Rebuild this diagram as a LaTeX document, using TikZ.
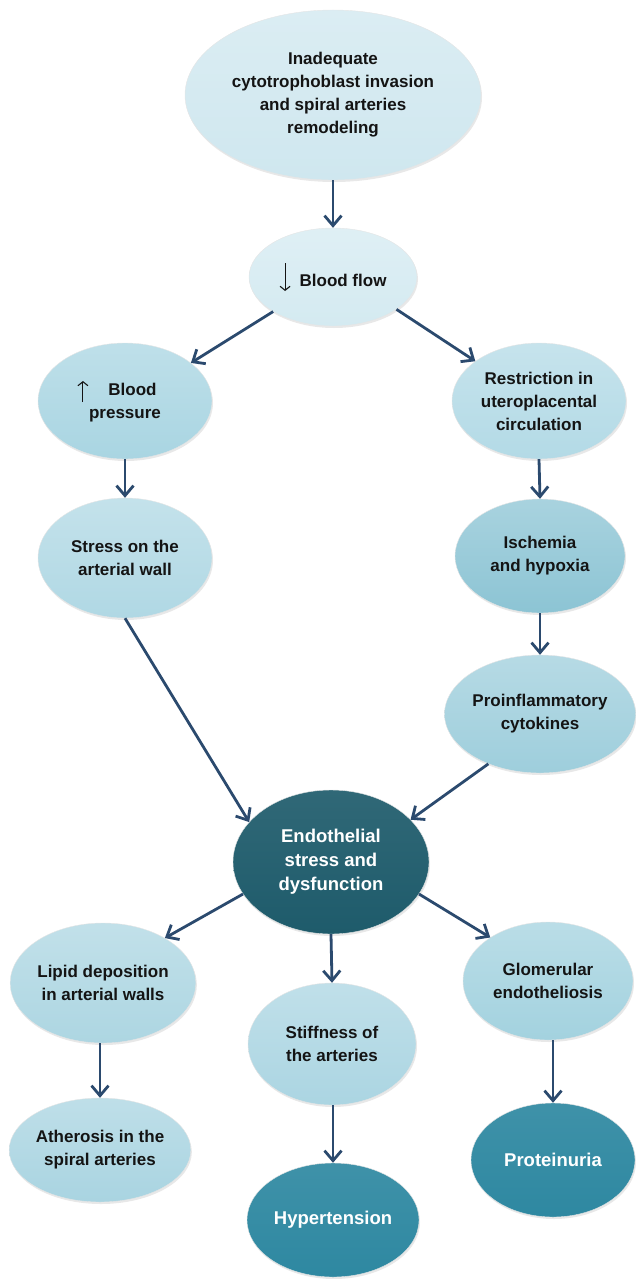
\documentclass[tikz,border=0pt]{standalone}
\usepackage{fontspec}
\setmainfont{Liberation Sans}
\usetikzlibrary{shapes.geometric,arrows.meta,shadows}
\definecolor{arrowc}{HTML}{2B4A6E}
\definecolor{cTop}{HTML}{CFE7EF}
\definecolor{cBf}{HTML}{D4EAF1}
\definecolor{cBp}{HTML}{A9D5E2}
\definecolor{cRest}{HTML}{B3DAE6}
\definecolor{cStress}{HTML}{B0D8E4}
\definecolor{cIsch}{HTML}{8CC4D4}
\definecolor{cPro}{HTML}{9ECEDC}
\definecolor{cEndo}{HTML}{1E5B6B}
\definecolor{cLip}{HTML}{ADD6E2}
\definecolor{cStiff}{HTML}{ABD5E2}
\definecolor{cGlom}{HTML}{A3D2DF}
\definecolor{cAth}{HTML}{A9D4E1}
\definecolor{cOut}{HTML}{2E88A1}
\newcommand{\arrdown}{\tikz[baseline=0pt]\draw[line width=1.1pt,-{Straight Barb[length=4pt,width=10pt]}] (0pt,23pt) -- (0pt,-5pt);}
\newcommand{\arrup}{\tikz[baseline=0pt]\draw[line width=1.1pt,-{Straight Barb[length=4pt,width=10pt]}] (0pt,-7pt) -- (0pt,14pt);}
\begin{document}
\begin{tikzpicture}[x=1pt,y=-1pt,
  bub/.style={ellipse, inner sep=0pt, align=center,
    font=\fontsize{17}{23}\selectfont\bfseries, text=black!92,
    draw=white!80!gray, line width=0.4pt,
    drop shadow={opacity=0.18, shadow xshift=1pt, shadow yshift=-2pt}},
  lightbub/.style={bub, top color=#1!75!white, bottom color=#1},
  darkbub/.style={bub, top color=#1!92!white, bottom color=#1, text=white,
    font=\fontsize{18.5}{24}\selectfont\bfseries},
  conn/.style={draw=arrowc, line width=2.8pt,
    -{Straight Barb[length=10pt,width=17pt]}}
]
\useasboundingbox (0,0) rectangle (636,1279);

\node[lightbub=cTop, minimum width=296pt, minimum height=170pt] (top) at (333,95)
  {Inadequate\\cytotrophoblast invasion\\and spiral arteries\\remodeling};
\node[lightbub=cBf, minimum width=168pt, minimum height=98pt] (bf) at (333,277)
  {\arrdown\hspace{9pt}Blood flow};
\node[lightbub=cBp, minimum width=174pt, minimum height=116pt] (bp) at (125,401)
  {\hspace*{-16pt}\arrup\hspace{20pt}Blood\\pressure};
\node[lightbub=cRest, minimum width=174pt, minimum height=116pt] (rest) at (539,401)
  {Restriction in\\uteroplacental\\circulation};
\node[lightbub=cStress, minimum width=174pt, minimum height=120pt] (stress) at (125,558)
  {Stress on the\\arterial wall};
\node[lightbub=cIsch, minimum width=170pt, minimum height=114pt] (isch) at (540,556)
  {Ischemia\\and hypoxia};
\node[lightbub=cPro, minimum width=172pt, minimum height=118pt] (pro) at (540,714)
  {Proinflammatory\\cytokines};
\node[darkbub=cEndo, minimum width=196pt, minimum height=144pt] (endo) at (331,862)
  {Endothelial\\stress and\\dysfunction};
\node[lightbub=cLip, minimum width=170pt, minimum height=120pt] (lip) at (103,983)
  {Lipid deposition\\in arterial walls};
\node[lightbub=cStiff, minimum width=168pt, minimum height=122pt] (stiff) at (332,1044)
  {Stiffness of\\the arteries};
\node[lightbub=cGlom, minimum width=170pt, minimum height=118pt] (glom) at (548,981)
  {Glomerular\\endotheliosis};
\node[lightbub=cAth, minimum width=172pt, minimum height=104pt] (ath) at (100,1150)
  {Atherosis in the\\spiral arteries};
\node[darkbub=cOut, minimum width=172pt, minimum height=114pt] (hyp) at (333,1220)
  {Hypertension};
\node[darkbub=cOut, minimum width=164pt, minimum height=114pt] (prot) at (553,1160)
  {Proteinuria};

\draw[conn] (top.south) -- (bf.north);
\draw[conn] (bf.210) -- (bp.30);
\draw[conn] (bf.333) -- (rest.148);
\draw[conn] (bp.south) -- (stress.north);
\draw[conn] (rest.south) -- (isch.north);
\draw[conn] (isch.south) -- (pro.north);
\draw[conn] (stress.south) -- (endo.154);
\draw[conn] (pro.224) -- (endo.28);
\draw[conn] (endo.200) -- (lip.36);
\draw[conn] (endo.south) -- (stiff.north);
\draw[conn] (endo.340) -- (glom.143);
\draw[conn] (ath.north |- lip.south) -- (ath.north);
\draw[conn] (hyp.north |- stiff.south) -- (hyp.north);
\draw[conn] (prot.north |- glom.south) -- (prot.north);
\end{tikzpicture}
\end{document}
